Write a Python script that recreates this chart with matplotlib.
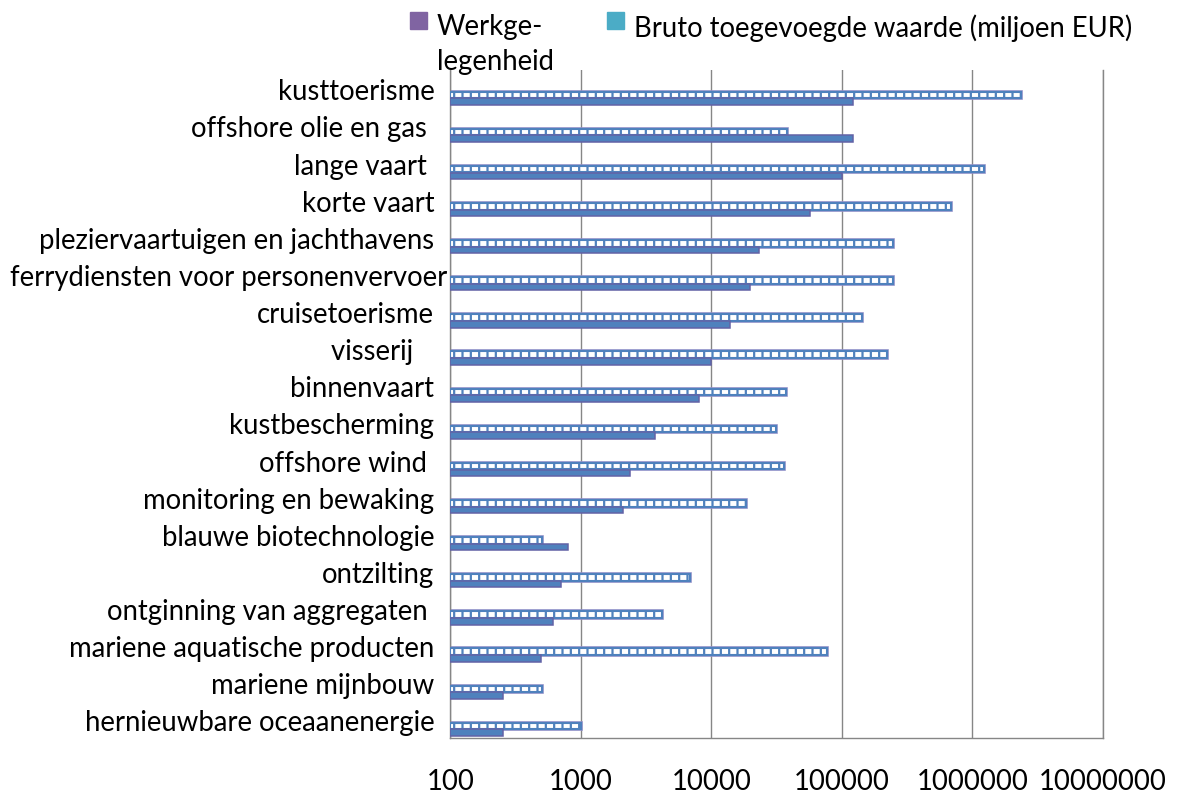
import matplotlib
matplotlib.use("Agg")
import matplotlib.pyplot as plt
from matplotlib.patches import Rectangle
import numpy as np

# ---- data ----
categories = [
    "kusttoerisme",
    "offshore olie en gas ",
    "lange vaart ",
    "korte vaart",
    "pleziervaartuigen en jachthavens",
    "ferrydiensten voor personenvervoer",
    "cruisetoerisme",
    "visserij   ",
    "binnenvaart",
    "kustbescherming",
    "offshore wind ",
    "monitoring en bewaking",
    "blauwe biotechnologie",
    "ontzilting",
    "ontginning van aggregaten ",
    "mariene aquatische producten",
    "mariene mijnbouw",
    "hernieuwbare oceaanenergie",
]
werkgelegenheid = [2350000, 38000, 1220000, 690000, 247000, 247000, 143000, 222000,
                   37000, 31500, 36000, 18500, 500, 6800, 4200, 77000, 500, 1000]
bruto_toegevoegde_waarde = [121000, 121000, 100000, 56500, 23000, 19700, 13800, 10000,
                            8100, 3700, 2400, 2100, 800, 710, 610, 495, 254, 254]
xticks = [100, 1000, 10000, 100000, 1000000, 10000000]
legend_labels = ["Werkge-\nlegenheid", "Bruto toegevoegde waarde (miljoen EUR)"]

# ---- style ----
plt.rcParams["font.family"] = ["Lato", "DejaVu Sans"]
plt.rcParams["hatch.linewidth"] = 1.6
W, H = 1182, 798
fig = plt.figure(figsize=(W / 100, H / 100), dpi=100)

L, R, T, B = 450.3, 1103.0, 70.0, 738.3
ax = fig.add_axes([L / W, 1 - B / H, (R - L) / W, (B - T) / H])
ax.set_xscale("log")
base = 100
ax.set_xlim(base, 1e7)
n = len(categories)
ax.set_ylim(n, 0)
y = np.arange(n) + 0.5

werk = np.array(werkgelegenheid, dtype=float)
bva = np.array(bruto_toegevoegde_waarde, dtype=float)

blue = "#4F81BD"
# hatched bars (outer soft outline + pattern)
ax.barh(y + 0.17, werk - base, left=base, height=0.18, color="none",
        edgecolor="#8F8FC8", linewidth=2.6, zorder=2)
ax.barh(y + 0.17, werk - base, left=base, height=0.18, color="white",
        edgecolor=blue, hatch="||", linewidth=1.5, zorder=3)
# solid bars
ax.barh(y + 0.35, bva - base, left=base, height=0.175, color=blue,
        edgecolor="#6262A6", linewidth=1.1, zorder=3)

# grid / spines
grid_c = "#868686"
ax.set_xticks(xticks)
ax.xaxis.set_minor_locator(matplotlib.ticker.NullLocator())
ax.set_xticklabels([str(v) for v in xticks])
ax.grid(axis="x", color=grid_c, linewidth=1.0, zorder=1)
ax.set_axisbelow(True)
ax.spines["top"].set_visible(False)
for s in ["left", "bottom", "right"]:
    ax.spines[s].set_color(grid_c)
    ax.spines[s].set_linewidth(1.0)
ax.tick_params(axis="x", length=0, pad=22)
ax.set_yticks([])

# font size: fit widest label similar to reference
probe = fig.text(0, 0, "ferrydiensten voor personenvervoer", fontsize=18)
fig.canvas.draw()
wpx = probe.get_window_extent().width
probe.remove()
fs = 18 * 437.0 / wpx

for lab in ax.get_xticklabels():
    lab.set_fontsize(fs)

ytrans = ax.get_yaxis_transform()
labels = []
for yi, cat in zip(y, categories):
    t = ax.text(-16 / (R - L), yi + 0.1, cat, transform=ytrans, ha="right",
                va="center", fontsize=fs, color="black")
    labels.append(t)
fig.canvas.draw()
for t in labels:
    bb = t.get_window_extent()
    if bb.x0 < 10:
        t.set_ha("left")
        t.set_x((10 - L) / (R - L))

# legend (manual, as in reference)
fig.add_artist(Rectangle((410 / W, 1 - 29 / H), 17 / W, 17 / H,
                         transform=fig.transFigure, color="#8064A2"))
fig.text(437 / W, 1 - 14 / H, legend_labels[0], ha="left", va="top",
         fontsize=fs, linespacing=1.45)
fig.add_artist(Rectangle((607 / W, 1 - 29 / H), 17 / W, 17 / H,
                         transform=fig.transFigure, color="#4BACC6"))
fig.text(634 / W, 1 - 14 / H, legend_labels[1], ha="left", va="top",
         fontsize=fs)

fig.savefig("out.png", dpi=100)
